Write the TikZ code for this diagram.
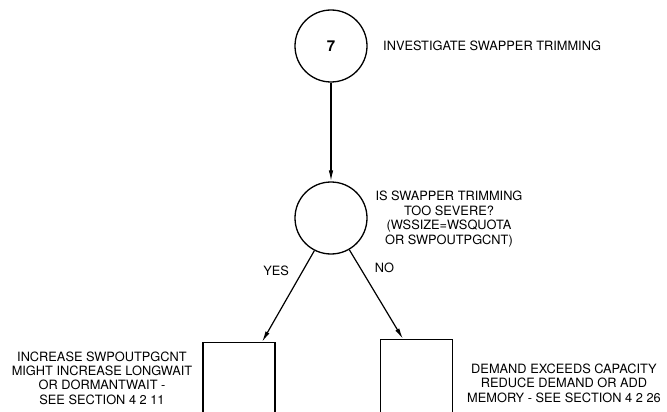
\documentclass[tikz,border=0pt]{standalone}
\usepackage{fontspec}
\setmainfont{TeX Gyre Heros}
\usetikzlibrary{arrows.meta,positioning}

\begin{document}
\begin{tikzpicture}[
    x=1pt, y=-1pt,
    % GLOBAL CFG
    font=\fontsize{12.8}{14.4}\selectfont,
    >={Latex[length=11pt,width=4.5pt]},
    % Styles
    step circle/.style={% For the numbered step and the question
        circle,
        draw,
        line width=1.3pt,
        minimum size=72pt,
        inner sep=0pt,
        },
    action/.style={% For the boxes at the bottom
        rectangle,
        draw,
        line width=1.3pt,
        minimum width=72pt,
        minimum height=84pt,
        anchor=north,
        },
    note/.style={% For the texts beside the shapes
        align=center,
        inner sep=0pt,
        },
    flow/.style={% Arrows between the shapes
        ->,
        line width=1.2pt,
        },
    ]

    \clip (0,0) rectangle (667,412);

    % Draw the shapes:
    \node [step circle] (step) at (331, 46) {\fontsize{15}{15}\selectfont\textbf{7}};
    \node [step circle] (question) at (331, 218) {};
    \node [action] (yesbox) at (239, 342) {};
    \node [action] (nobox) at (416.5, 339) {};

    % Texts
    \node [note, anchor=west] (steptext) at (383, 46) {INVESTIGATE SWAPPER TRIMMING};
    \node [note] (questiontext) at (449, 219) {IS SWAPPER TRIMMING\\TOO SEVERE?\\(WSSIZE=WSQUOTA\\OR SWPOUTPGCNT)};
    \node [note] (yestext) at (102, 378) {INCREASE SWPOUTPGCNT\\MIGHT INCREASE LONGWAIT\\OR DORMANTWAIT -\\SEE SECTION 4 2 11};
    \node [note] (notext) at (564, 383) {DEMAND EXCEEDS CAPACITY\\REDUCE DEMAND OR ADD\\MEMORY - SEE SECTION 4 2 26};

    % Connect all.
    \draw [flow] (step) -- (question);
    \draw [flow] (question.243) -- node[pos=0.22, left=10pt] {YES} ([xshift=23pt]yesbox.north);
    \draw [flow] (question.300) -- node[pos=0.2, right=11pt] {NO} ([xshift=-13.5pt]nobox.north);
\end{tikzpicture}
\end{document}
